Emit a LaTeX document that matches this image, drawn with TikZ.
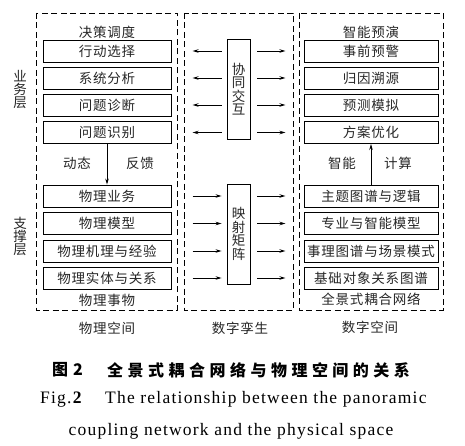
\documentclass[tikz,border=0pt]{standalone}
\usepackage{fontspec}
\setmainfont{Liberation Serif}
\newfontfamily\cjk{Noto Sans CJK SC}[LetterSpace=6]
\newfontfamily\cjkv{Noto Sans CJK SC}
\newfontfamily\cjkcap{Noto Sans CJK SC}[LetterSpace=28]
\newfontfamily\capserif{Liberation Serif}[LetterSpace=7]
\usetikzlibrary{calc,arrows.meta}
\begin{document}
\begin{tikzpicture}[x=1pt,y=-1pt,
  every node/.style={inner sep=0pt, text=black!85},
  zh/.style={font=\cjk\fontsize{13.5}{14}\selectfont},
  zv/.style={align=center, font=\cjkv\fontsize{13.5}{13.5}\selectfont},
  region/.style={draw, dashed, dash pattern=on 6pt off 3.5pt, line width=0.8pt},
  lbox/.style={zh, draw, line width=0.9pt, minimum width=128pt, minimum height=22pt},
  rbox/.style={zh, draw, line width=0.9pt, minimum width=134pt, minimum height=22pt},
  vbox/.style={zv, draw, line width=0.9pt, minimum width=23pt, minimum height=100pt},
  arr/.style={line width=0.8pt, -{Stealth[length=6pt,width=3.5pt]}},
  link/.style={line width=0.9pt, -{Stealth[length=6pt,width=3.5pt]}}
]
\useasboundingbox (0,0) rectangle (465,446);
% regions
\draw[region] (36,13) rectangle (177,310);
\draw[region] (184,13) rectangle (293,310);
\draw[region] (299,13) rectangle (443,310);
% left column
\node[zh] (lt) at (107,32) {决策调度};
\node[lbox] (L1) at (107,51) {行动选择};
\node[lbox] (L2) at (107,78) {系统分析};
\node[lbox] (L3) at (107,105) {问题诊断};
\node[lbox] (L4) at (107,132.5) {问题识别};
\node[lbox] (L5) at (107,196) {物理业务};
\node[lbox] (L6) at (107,223.5) {物理模型};
\node[lbox] (L7) at (107,251) {物理机理与经验};
\node[lbox] (L8) at (107,278) {物理实体与关系};
\node[zh] (lb) at (107,300) {物理事物};
\node[zh] (ld) at (77,163) {动态};
\node[zh] (lf) at (140,163) {反馈};
\draw[link] (L4.south) -- (L5.north);
% right column
\node[zh] (rt) at (371,32) {智能预演};
\node[rbox] (R1) at (371,51) {事前预警};
\node[rbox] (R2) at (371,78) {归因溯源};
\node[rbox] (R3) at (371,105) {预测模拟};
\node[rbox] (R4) at (371,132.5) {方案优化};
\node[rbox] (R5) at (371,196) {主题图谱与逻辑};
\node[rbox] (R6) at (371,223.5) {专业与智能模型};
\node[rbox] (R7) at (371,251) {事理图谱与场景模式};
\node[rbox] (R8) at (371,278) {基础对象关系图谱};
\node[zh] (rb) at (371,299) {全景式耦合网络};
\node[zh] (rz) at (342,163) {智能};
\node[zh] (rj) at (398,163) {计算};
\draw[link] (R5.north) -- (R4.south);
% middle
\node[vbox] (C1) at (238.5,89) {协\\同\\交\\互};
\node[vbox] (C2) at (238.5,234) {映\\射\\矩\\阵};
\foreach \r in {L1,L2,L3,L4}{
  \draw[arr] ($(C1.west|-\r)+(-5,0)$) -- ($(C1.west|-\r)+(-34,0)$);
  \draw[arr] ($(C1.east|-\r)+(7,0)$) -- ($(C1.east|-\r)+(35,0)$);
}
\foreach \r in {L5,L6,L7,L8}{
  \draw[arr] ($(C2.west|-\r)+(-34,0)$) -- ($(C2.west|-\r)+(-5,0)$);
  \draw[arr] ($(C2.east|-\r)+(7,0)$) -- ($(C2.east|-\r)+(35,0)$);
}
% side labels
\node[zv, font=\cjkv\fontsize{13.5}{13}\selectfont] (s1) at (20,90) {业\\务\\层};
\node[zv, font=\cjkv\fontsize{13.5}{13}\selectfont] (s2) at (20,236) {支\\撑\\层};
% space labels
\node[zh] (p1) at (107,328) {物理空间};
\node[zh] (p2) at (240,328) {数字孪生};
\node[zh] (p3) at (370,327) {数字空间};
% caption
\node[anchor=west, font=\cjkv\bfseries\fontsize{16}{16}\selectfont, text=black] (c0) at (52,370) {图\hspace{5pt}2};
\node[anchor=west, font=\cjkcap\bfseries\fontsize{16}{16}\selectfont, text=black] (c1) at (107,370) {全景式耦合网络与物理空间的关系};
\node[anchor=base west, font=\capserif\fontsize{17.5}{17.5}\selectfont, text=black] (c2) at (40,403) {Fig.\textbf{2}};
\node[anchor=base west, font=\capserif\fontsize{17.5}{17.5}\selectfont, text=black] (c3) at (105,403) {The relationship between the panoramic};
\node[anchor=base, font=\capserif\fontsize{17.5}{17.5}\selectfont, text=black] (c4) at (231,435) {coupling network and the physical space};
\end{tikzpicture}
\end{document}
